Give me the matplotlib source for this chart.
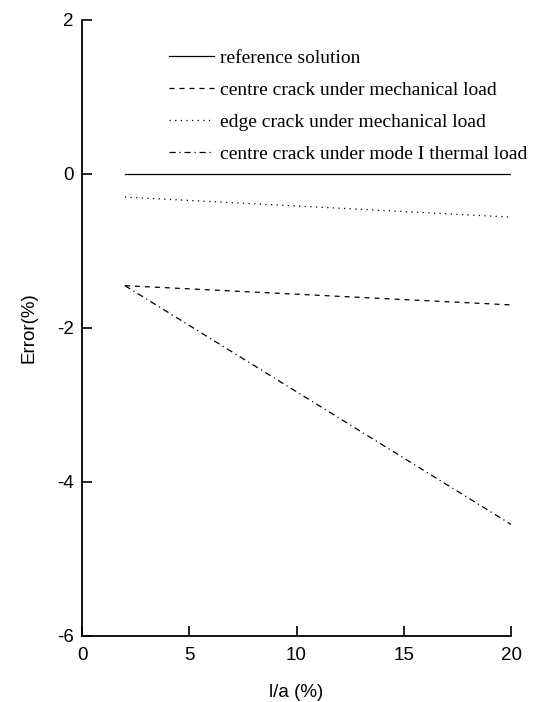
import matplotlib
matplotlib.use("Agg")
import matplotlib.pyplot as plt

plt.rcParams["axes.unicode_minus"] = False

x_vals = [2, 20]
ref_vals = [0.0, 0.0]
centre_mech_vals = [-1.45, -1.70]
edge_mech_vals = [-0.30, -0.56]
centre_thermal_vals = [-1.45, -4.55]

labels = ["reference solution",
          "centre crack under mechanical load",
          "edge crack under mechanical load",
          "centre crack under mode I thermal load"]

xticks = [0, 5, 10, 15, 20]
yticks = [-6, -4, -2, 0, 2]

fig = plt.figure(figsize=(5.48, 7.02), dpi=100)
ax = fig.add_axes([82/548, 1-636/702, (511-82)/548, (636-20)/702])

lw = 0.9
ax.plot(x_vals, ref_vals, color="black", lw=lw, linestyle="-", label=labels[0])
ax.plot(x_vals, centre_mech_vals, color="black", lw=lw, linestyle=(0, (4, 4)), label=labels[1])
ax.plot(x_vals, edge_mech_vals, color="black", lw=lw, linestyle=(0, (1, 3.5)), label=labels[2])
ax.plot(x_vals, centre_thermal_vals, color="black", lw=lw, linestyle=(0, (5, 3, 1, 3)), label=labels[3])

ax.set_xlim(0, 20)
ax.set_ylim(-6, 2)
ax.set_xticks(xticks)
ax.set_yticks(yticks)
for s in ["top", "right"]:
    ax.spines[s].set_visible(False)
for s in ["left", "bottom"]:
    ax.spines[s].set_linewidth(1.3)
ax.tick_params(direction="in", length=7, width=1.2, labelsize=13.5)
ax.tick_params(axis="x", pad=8)
ax.tick_params(axis="y", pad=6)
for lab in ax.get_xticklabels() + ax.get_yticklabels():
    lab.set_fontfamily("Liberation Sans")

ax.set_xlabel("l/a (%)", fontsize=13.5, family="Liberation Sans", labelpad=14)
ax.set_ylabel("Error(%)", fontsize=13.5, family="Liberation Sans", labelpad=14)

leg = ax.legend(loc="upper left", bbox_to_anchor=(169/548, 1-49/702),
                bbox_transform=fig.transFigure, frameon=False,
                prop={"family": "Liberation Serif", "size": 14},
                handlelength=2.3, handletextpad=0.3, labelspacing=0.74,
                borderpad=0, borderaxespad=0)

fig.savefig("out.png", dpi=100)
